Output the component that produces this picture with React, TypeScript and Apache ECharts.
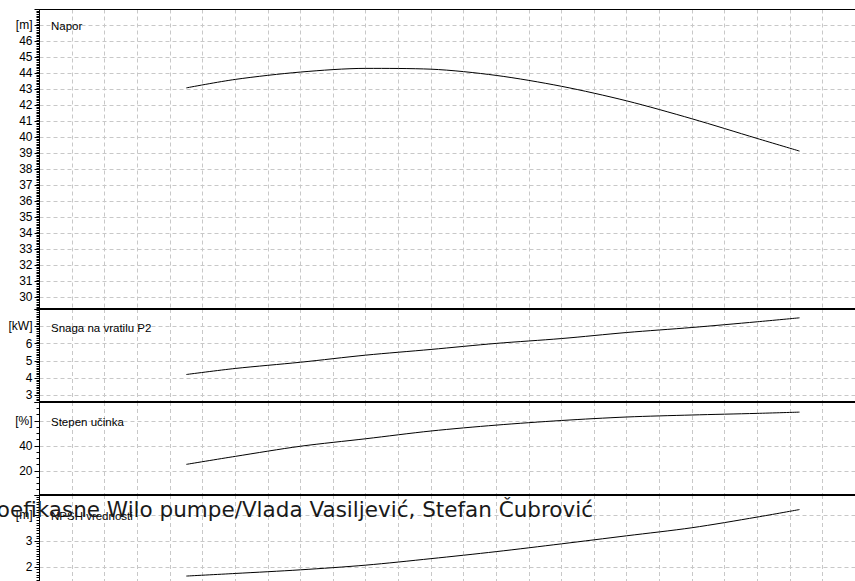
import React, { useEffect, useRef } from "react";
import * as echarts from "echarts";

// Flow positions (x) at which the curves were read
const FLOW = [4.5, 6, 8, 10, 12, 14, 16, 18, 20, 22, 23.3];
// Napor [m]
const NAPOR = [43.1, 43.63, 44.09, 44.32, 44.27, 43.88, 43.2, 42.29, 41.17, 39.94, 39.15];
// Snaga na vratilu P2 [kW]
const SNAGA = [4.21, 4.56, 4.92, 5.33, 5.66, 6.01, 6.29, 6.64, 6.93, 7.26, 7.49];
// Stepen učinka [%]
const STEPEN = [25.1, 31.5, 39.6, 45.6, 51.8, 56.5, 60.2, 63.0, 64.6, 65.9, 66.9];
// NPSH [m]
const NPSH = [1.65, 1.75, 1.89, 2.07, 2.32, 2.59, 2.89, 3.2, 3.51, 3.92, 4.21];

const TITLES = ["Napor", "Snaga na vratilu P2", "Stepen učinka", "NPSH vrednosti"];
const UNITS = ["[m]", "[kW]", "[%]", "[m]"];
const UNIT_TICKS = [47, 7, 60, 4];
const Y_MIN = [29.28, 2.62, 0.6, 1.46];
const Y_MAX = [48, 8, 75, 4.77];
const Y_STEP = [1, 1, 20, 1];
const MINOR_SPLIT = [10, 10, 4, 10];
const X_MIN = 0;
const X_MAX = 25;
const X_STEP = 1;
const CAPTION = "Visokoefikasne Wilo pumpe/Vlada Vasiljević, Stefan Čubrović";

const SERIES = [NAPOR, SNAGA, STEPEN, NPSH];

export default function App() {
  const ref = useRef<HTMLDivElement>(null);
  useEffect(() => {
    if (!ref.current) return;
    const chart = echarts.init(ref.current, null, { renderer: "svg" });
    const gridTops = [9.5, 309, 402, 495];
    const gridHeights = [299.5, 93, 93, 86];
    const titleY = [26, 328, 422, 516];
    const dash = { color: "#c8c8c8", type: [4, 3], width: 1 };

    const grid = gridTops.map((t, i) => ({
      left: 39.5,
      top: t,
      width: 818.5,
      height: gridHeights[i],
      containLabel: false,
    }));
    const xAxis = gridTops.map((_, i) => ({
      type: "value",
      gridIndex: i,
      min: X_MIN,
      max: X_MAX,
      interval: X_STEP,
      axisLine: { show: false },
      axisTick: { show: false },
      axisLabel: { show: false },
      splitLine: { show: true, lineStyle: dash },
    }));
    const yAxis = gridTops.map((_, i) => ({
      type: "value",
      gridIndex: i,
      min: Y_MIN[i],
      max: Y_MAX[i],
      minInterval: Y_STEP[i],
      maxInterval: Y_STEP[i],
      splitNumber: Math.round((Y_MAX[i] - Y_MIN[i]) / Y_STEP[i]),
      axisLine: { show: true, lineStyle: { color: "#000", width: 1 } },
      axisTick: { show: true, length: 5, lineStyle: { color: "#000", width: 1 } },
      minorTick: { show: true, splitNumber: MINOR_SPLIT[i], length: 3, lineStyle: { color: "#000", width: 1 } },
      axisLabel: {
        showMinLabel: false,
        showMaxLabel: false,
        margin: 7,
        color: "#000",
        fontSize: 12,
        fontFamily: "Liberation Sans",
        formatter: (v: number) => (Math.abs(v - UNIT_TICKS[i]) < 1e-6 ? UNITS[i] : String(v)),
      },
      splitLine: { show: true, lineStyle: dash },
      minorSplitLine: { show: false },
    }));
    const series = SERIES.map((arr, i) => ({
      type: "line",
      xAxisIndex: i,
      yAxisIndex: i,
      data: FLOW.map((q, k) => [q, arr[k]]),
      showSymbol: false,
      smooth: 0.3,
      silent: true,
      lineStyle: { color: "#000", width: 1 },
    }));
    const graphic: any[] = [
      { type: "line", z: 100, shape: { x1: 39.5, y1: 9.5, x2: 855, y2: 9.5 }, style: { stroke: "#000", lineWidth: 1 } },
      ...[309, 402, 495].map((y) => ({
        type: "line",
        z: 100,
        shape: { x1: 39.5, y1: y, x2: 855, y2: y },
        style: { stroke: "#000", lineWidth: 2 },
      })),
      ...TITLES.map((t, i) => ({
        type: "text",
        z: 100,
        x: 51,
        y: titleY[i],
        style: {
          text: t,
          fill: "#000",
          fontSize: 11.5,
          fontFamily: "Liberation Sans",
          verticalAlign: "middle",
          align: "left",
        },
      })),
      {
        type: "text",
        z: 200,
        x: 593,
        y: 509,
        style: {
          text: CAPTION,
          fill: "#1a1a1a",
          fontSize: 21.5,
          fontFamily: "DejaVu Sans",
          verticalAlign: "middle",
          align: "right",
        },
      },
    ];
    chart.setOption({
      animation: false,
      backgroundColor: "#fff",
      grid,
      xAxis,
      yAxis,
      series,
      graphic,
    });
    return () => chart.dispose();
  }, []);
  return (
    <div
      ref={ref}
      style={{ position: "absolute", left: 0, top: 0, width: 855, height: 581 }}
    />
  );
}
